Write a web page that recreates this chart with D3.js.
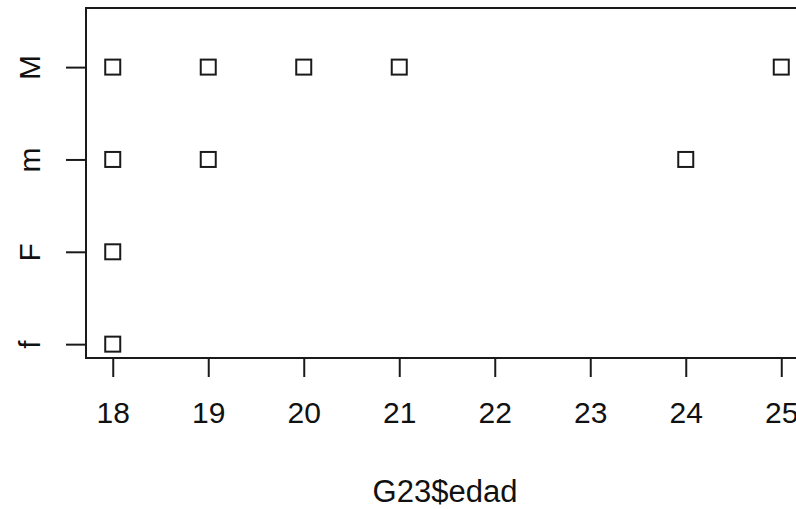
<!DOCTYPE html>
<html>
<head>
<meta charset="utf-8">
<script src="https://cdn.jsdelivr.net/npm/d3@7"></script>
<style>
  html, body { margin: 0; padding: 0; background: #fff; }
  svg { display: block; }
  text { font-family: "Liberation Sans", Arial, sans-serif; fill: #111; }
</style>
</head>
<body>
<svg id="chart" width="796" height="509"></svg>
<script>
// Data
const categories = ["f", "F", "m", "M"];
const groupValues = {
  f: [18],
  F: [18],
  m: [18, 19, 24],
  M: [18, 19, 20, 21, 25]
};
const xTicks = [18, 19, 20, 21, 22, 23, 24, 25];
const xLabel = "G23$edad";

const svg = d3.select("#chart");

const x = d3.scaleLinear().domain([17.72, 25.28]).range([86, 808]);
const yIndex = d3.scaleLinear().domain([0.85, 4.64]).range([358, 8]);
const y = c => yIndex(categories.indexOf(c) + 1);

const ink = "#1a1a1a";

// plot box
svg.append("rect")
  .attr("x", x.range()[0]).attr("y", yIndex.range()[1])
  .attr("width", x.range()[1] - x.range()[0])
  .attr("height", yIndex.range()[0] - yIndex.range()[1])
  .attr("fill", "none").attr("stroke", ink).attr("stroke-width", 2);

// x axis
const xAxis = d3.axisBottom(x).tickValues(xTicks).tickSize(19).tickFormat(d3.format("d"));
const gx = svg.append("g").attr("transform", `translate(0,358)`).call(xAxis);
gx.select(".domain").remove();
gx.selectAll(".tick line").attr("stroke", ink).attr("stroke-width", 2);
gx.selectAll(".tick text").attr("font-size", 30).attr("fill", "#111")
  .attr("font-family", "'Liberation Sans', Arial, sans-serif")
  .attr("dy", null).attr("y", 65);

// y axis
const yAxis = d3.axisLeft(d3.scalePoint().domain(categories).range([yIndex(1), yIndex(4)]))
  .tickSize(19).tickPadding(0);
const gy = svg.append("g").attr("transform", `translate(85,0)`).call(yAxis);
gy.select(".domain").remove();
gy.selectAll(".tick line").attr("stroke", ink).attr("stroke-width", 2);
gy.selectAll(".tick text")
  .attr("x", null).attr("dy", null)
  .attr("font-size", 30).attr("fill", "#111")
  .attr("font-family", "'Liberation Sans', Arial, sans-serif")
  .attr("text-anchor", "middle")
  .attr("transform", "translate(-45,0) rotate(-90)");

// x label
svg.append("text")
  .attr("x", 445).attr("y", 502)
  .attr("text-anchor", "middle")
  .attr("font-size", 31)
  .text(xLabel);

// points
const pts = [];
categories.forEach(c => groupValues[c].forEach(v => pts.push({c, v})));
const s = 15;
svg.append("g").selectAll("rect").data(pts).join("rect")
  .attr("x", d => x(d.v) - s/2)
  .attr("y", d => y(d.c) - s/2)
  .attr("width", s).attr("height", s)
  .attr("fill", "none").attr("stroke", ink).attr("stroke-width", 2);
</script>
</body>
</html>
